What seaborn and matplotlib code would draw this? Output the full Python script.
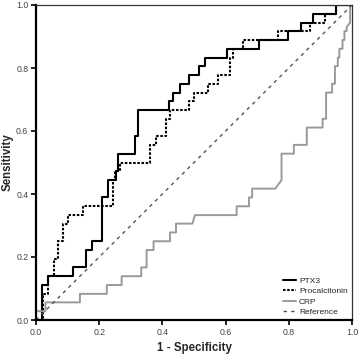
import matplotlib
matplotlib.use('Agg')
import matplotlib.pyplot as plt
import seaborn as sns

# ROC vertices (1 - specificity, sensitivity)
ptx3_fpr = [0, 0.018, 0.018, 0.039, 0.039, 0.118, 0.118, 0.158, 0.158, 0.176, 0.176, 0.21, 0.21,
            0.229, 0.229, 0.252, 0.252, 0.26, 0.26, 0.313, 0.313, 0.322, 0.322, 0.421, 0.421,
            0.433, 0.433, 0.455, 0.455, 0.483, 0.483, 0.515, 0.515, 0.534, 0.534, 0.605, 0.605,
            0.706, 0.706, 0.797, 0.797, 0.838, 0.838, 0.877, 0.877, 0.95, 0.95, 1.0]
ptx3_tpr = [0, 0, 0.111, 0.111, 0.139, 0.139, 0.167, 0.167, 0.222, 0.222, 0.25, 0.25, 0.389,
            0.389, 0.444, 0.444, 0.472, 0.472, 0.528, 0.528, 0.583, 0.583, 0.667, 0.667, 0.694,
            0.694, 0.722, 0.722, 0.75, 0.75, 0.778, 0.778, 0.806, 0.806, 0.833, 0.833, 0.861,
            0.861, 0.889, 0.889, 0.917, 0.917, 0.944, 0.944, 0.972, 0.972, 1.0, 1.0]

pct_fpr = [0, 0.021, 0.021, 0.039, 0.039, 0.058, 0.058, 0.071, 0.071, 0.086, 0.086, 0.102, 0.102,
           0.148, 0.148, 0.243, 0.243, 0.25, 0.25, 0.266, 0.266, 0.361, 0.361, 0.38, 0.38, 0.41,
           0.41, 0.424, 0.424, 0.483, 0.483, 0.5, 0.5, 0.543, 0.543, 0.575, 0.575, 0.614, 0.614,
           0.622, 0.622, 0.656, 0.656, 0.766, 0.766, 0.866, 0.866, 0.914, 0.914, 0.95, 0.95, 1.0]
pct_tpr = [0, 0, 0.083, 0.083, 0.139, 0.139, 0.194, 0.194, 0.25, 0.25, 0.306, 0.306, 0.333,
           0.333, 0.361, 0.361, 0.444, 0.444, 0.472, 0.472, 0.5, 0.5, 0.556, 0.556, 0.583, 0.583,
           0.639, 0.639, 0.667, 0.667, 0.694, 0.694, 0.722, 0.722, 0.75, 0.75, 0.778, 0.778, 0.833,
           0.833, 0.861, 0.861, 0.889, 0.889, 0.917, 0.917, 0.944, 0.944, 0.972, 0.972, 1.0, 1.0]

crp_fpr = [0, 0, 0.03, 0.03, 0.139, 0.139, 0.224, 0.224, 0.271, 0.271, 0.333, 0.333, 0.35, 0.35,
           0.372, 0.372, 0.424, 0.424, 0.443, 0.443, 0.495, 0.503, 0.635, 0.635, 0.674, 0.674,
           0.684, 0.684, 0.757, 0.777, 0.777, 0.816, 0.816, 0.857, 0.857, 0.907, 0.907, 0.918,
           0.918, 0.937, 0.937, 0.946, 0.946, 0.955, 0.955, 0.96, 0.96, 0.97, 0.97, 0.976, 0.976,
           0.983, 0.983, 0.994, 0.994, 1.0]
crp_tpr = [0, 0.028, 0.028, 0.056, 0.056, 0.083, 0.083, 0.111, 0.111, 0.139, 0.139, 0.167, 0.167,
           0.222, 0.222, 0.25, 0.25, 0.278, 0.278, 0.306, 0.306, 0.333, 0.333, 0.361, 0.361, 0.389,
           0.389, 0.417, 0.417, 0.444, 0.528, 0.528, 0.556, 0.556, 0.611, 0.611, 0.639, 0.639,
           0.722, 0.722, 0.75, 0.75, 0.806, 0.806, 0.833, 0.833, 0.861, 0.861, 0.889, 0.889, 0.917,
           0.917, 0.93, 0.944, 1.0, 1.0]

ref_x = [0, 1]
ref_y = [0, 1]

ticks = [0.0, 0.2, 0.4, 0.6, 0.8, 1.0]
tick_labels = ['0.0', '0.2', '0.4', '0.6', '0.8', '1.0']

sns.set_style('ticks')
plt.rcParams['font.family'] = ['Liberation Sans', 'DejaVu Sans']

fig = plt.figure(figsize=(3.58, 3.56), dpi=100)
ax = fig.add_axes([36 / 358, 36 / 356, 316 / 358, 315 / 356])

sns.lineplot(x=ptx3_fpr, y=ptx3_tpr, sort=False, estimator=None, color='black',
             lw=1.5, label='PTX3', ax=ax)
sns.lineplot(x=pct_fpr, y=pct_tpr, sort=False, estimator=None, color='black',
             lw=1.5, linestyle=(0, (1.2, 0.8)), label='Procalcitonin', ax=ax)
sns.lineplot(x=crp_fpr, y=crp_tpr, sort=False, estimator=None, color='#9a9a9a',
             lw=1.4, label='CRP', ax=ax)
sns.lineplot(x=ref_x, y=ref_y, sort=False, estimator=None, color='#555555',
             lw=1.0, linestyle=(0, (2.5, 3)), label='Reference', ax=ax)

ax.set_xlim(0, 1)
ax.set_ylim(0, 1)
ax.set_xticks(ticks)
ax.set_xticklabels(tick_labels)
ax.set_yticks(ticks)
ax.set_yticklabels(tick_labels)
ax.tick_params(axis='both', direction='out', length=3.5, width=1.2, color='black',
               labelsize=6.3, labelcolor='#444444', pad=2)

for side in ['left', 'bottom']:
    ax.spines[side].set_linewidth(1.6)
    ax.spines[side].set_color('black')
for side in ['top', 'right']:
    ax.spines[side].set_visible(True)
    ax.spines[side].set_linewidth(0.9)
    ax.spines[side].set_color('#333333')

ax.set_xlabel('1 - Specificity', fontsize=8.3, fontweight='bold', labelpad=4)
ax.set_ylabel('Sensitivity', fontsize=8.3, fontweight='bold', labelpad=1.5)

leg = ax.legend(loc='lower right', frameon=False, fontsize=6, handlelength=1.5,
                handletextpad=0.4, labelspacing=0.3, borderaxespad=0.1)

fig.savefig('out.png', dpi=100)
